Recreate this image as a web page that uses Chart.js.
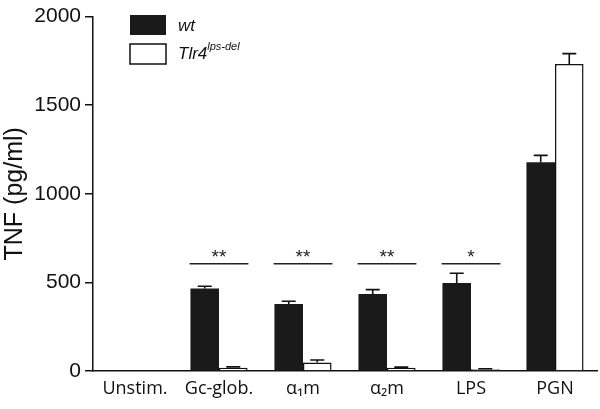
<!DOCTYPE html>
<html>
<head>
<meta charset="utf-8">
<script src="https://cdn.jsdelivr.net/npm/chart.js@4"></script>
<style>
  body { margin: 0; background: #fff; }
  #wrap { width: 600px; height: 409px; }
</style>
</head>
<body>
<div id="wrap"><canvas id="graphTNF" width="600" height="409"></canvas></div>
<script>
// datos
var categorias = ['Unstim.', 'Gc-glob.', 'α₁m', 'α₂m', 'LPS', 'PGN']
var wtValores = [5, 465, 378, 435, 496, 1178]
var wtError = [0, 13, 16, 24, 56, 39]
var tlrValores = [3, 18, 48, 18, 10, 1732]
var tlrError = [0, 5, 14, 4, 3, 59]
var marcasY = [0, 500, 1000, 1500, 2000]
var signif = ['', '**', '**', '**', '*', '']
var alturaSignif = 605

var fuente = 'Liberation Sans, Arial, sans-serif'
var fuenteCat = 'Open Sans, Liberation Sans, sans-serif'

// barras de error (solo hacia arriba)
var errorBars = {
  id: 'errorBars',
  afterDatasetsDraw: function (chart) {
    var ctx = chart.ctx
    var y = chart.scales.y
    var errs = [wtError, tlrError]
    ctx.save()
    ctx.strokeStyle = '#111'
    ctx.lineWidth = 1.6
    chart.data.datasets.forEach(function (ds, i) {
      var meta = chart.getDatasetMeta(i)
      meta.data.forEach(function (bar, j) {
        var e = errs[i][j]
        if (!e) return
        var top = y.getPixelForValue(ds.data[j] + e)
        ctx.beginPath()
        ctx.moveTo(bar.x, bar.y)
        ctx.lineTo(bar.x, top)
        ctx.moveTo(bar.x - 7, top)
        ctx.lineTo(bar.x + 7, top)
        ctx.stroke()
      })
    })
    ctx.restore()
  }
}

// líneas de significancia y leyenda propia
var extras = {
  id: 'extras',
  afterDraw: function (chart) {
    var ctx = chart.ctx
    var x = chart.scales.x
    var y = chart.scales.y
    var ancho = x.width / categorias.length
    ctx.save()
    ctx.strokeStyle = '#222'
    ctx.fillStyle = '#222'
    ctx.lineWidth = 1.6
    var yy = y.getPixelForValue(alturaSignif)
    signif.forEach(function (s, i) {
      if (!s) return
      var cx = x.getPixelForValue(i)
      ctx.beginPath()
      ctx.moveTo(cx - ancho * 0.35, yy)
      ctx.lineTo(cx + ancho * 0.35, yy)
      ctx.stroke()
      ctx.font = '19px ' + fuente
      ctx.textAlign = 'center'
      ctx.textBaseline = 'alphabetic'
      ctx.fillText(s, cx, yy - 1)
    })

    // leyenda
    ctx.fillStyle = '#1a1a1a'
    ctx.fillRect(130, 15, 36, 20)
    ctx.fillStyle = '#fff'
    ctx.fillRect(130, 44, 36, 20)
    ctx.strokeStyle = '#111'
    ctx.lineWidth = 1.5
    ctx.strokeRect(130, 44, 36, 20)
    ctx.fillStyle = '#111'
    ctx.textAlign = 'left'
    ctx.textBaseline = 'middle'
    ctx.font = 'italic 17px ' + fuente
    ctx.fillText('wt', 178, 26)
    ctx.fillText('Tlr4', 178, 54)
    var w = ctx.measureText('Tlr4').width
    ctx.font = 'italic 11px ' + fuente
    ctx.fillText('lps-del', 178 + w, 47)
    ctx.restore()
  }
}

function createChart() {
  var ctx = document.getElementById('graphTNF').getContext('2d')
  var myChart = new Chart(ctx, {
    type: 'bar',
    data: {
      labels: categorias,
      datasets: [{
        label: 'wt',
        data: wtValores,
        backgroundColor: '#1a1a1a',
        borderColor: '#111',
        borderWidth: 0
      }, {
        label: 'Tlr4 lps-del',
        data: tlrValores,
        backgroundColor: '#fff',
        borderColor: '#111',
        borderWidth: 1.5,
        borderSkipped: 'bottom'
      }]
    },
    options: {
      responsive: false,
      animation: false,
      layout: { padding: { top: 11, right: 3, left: 0, bottom: 0 } },
      categoryPercentage: 0.68,
      barPercentage: 1,
      plugins: {
        legend: { display: false },
        tooltip: { enabled: false }
      },
      scales: {
        x: {
          grid: { display: false, drawTicks: false },
          border: { display: true, color: '#111', width: 1.5 },
          ticks: {
            color: '#111',
            padding: 7,
            font: { family: fuenteCat, size: 18 }
          },
          afterFit: function (scale) { scale.height = 38 }
        },
        y: {
          min: 0,
          max: 2000,
          afterBuildTicks: function (scale) {
            scale.ticks = marcasY.map(function (v) { return { value: v } })
          },
          grid: { drawOnChartArea: false, drawTicks: true, tickLength: 8, color: '#111', lineWidth: 1.5 },
          border: { display: true, color: '#111', width: 1.5 },
          ticks: {
            color: '#111',
            padding: 4,
            font: { family: fuente, size: 21 },
            callback: function (v) { return String(v) }
          },
          title: {
            display: true,
            text: 'TNF (pg/ml)',
            color: '#111',
            font: { family: fuente, size: 25 },
            padding: { top: 0, bottom: 0 }
          },
          afterFit: function (scale) { scale.width = 93 }
        }
      }
    },
    plugins: [errorBars, extras]
  })
  myChart.render()
}

createChart()
</script>
</body>
</html>
